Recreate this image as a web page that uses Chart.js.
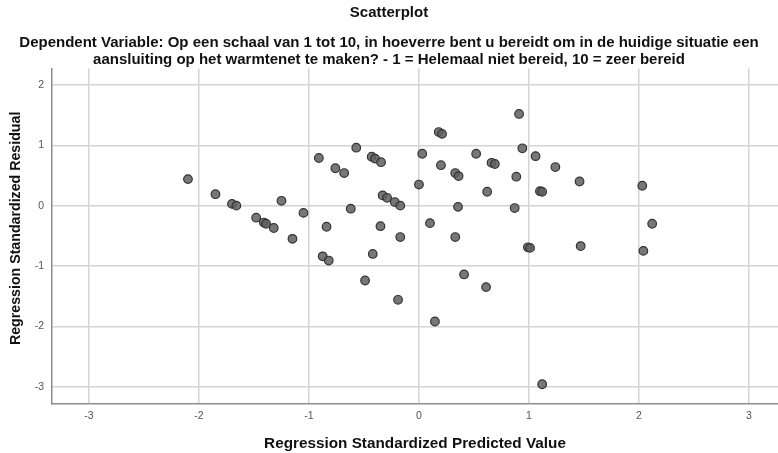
<!DOCTYPE html>
<html>
<head>
<meta charset="utf-8">
<script src="https://cdn.jsdelivr.net/npm/chart.js@4/dist/chart.umd.min.js"></script>
<style>
  html, body { margin: 0; padding: 0; background: #fff; overflow: hidden; }
  canvas { display: block; }
</style>
</head>
<body>
<canvas id="scatter" width="778" height="453"></canvas>
<script>
// predicted value (x) and residual (y)
var predicted = [-2.10, -1.85, -1.70, -1.66, -1.48, -1.41, -1.39, -1.32, -1.25, -1.15,
  -1.05, -0.91, -0.875, -0.82, -0.84, -0.76, -0.68, -0.62, -0.57, -0.49,
  -0.43, -0.40, -0.42, -0.345, -0.35, -0.33, -0.29, -0.22, -0.17, -0.17,
  -0.19, 0.00, 0.03, 0.10, 0.145, 0.18, 0.21, 0.20, 0.33, 0.36,
  0.355, 0.33, 0.41, 0.52, 0.62, 0.61, 0.66, 0.69, 0.87, 0.885,
  0.91, 0.94, 0.99, 1.01, 1.06, 1.10, 1.12, 1.12, 1.24, 1.46,
  1.47, 2.03, 2.04, 2.12];
var residual = [0.44, 0.19, 0.03, 0.00, -0.20, -0.28, -0.30, -0.37, 0.08, -0.55,
  -0.12, 0.79, -0.84, -0.91, -0.35, 0.62, 0.54, -0.05, 0.96, -1.24,
  0.81, 0.78, -0.80, 0.72, -0.34, 0.17, 0.13, 0.06, 0.00, -0.52,
  -1.56, 0.35, 0.86, -0.29, -1.92, 1.22, 1.19, 0.67, 0.54, 0.49,
  -0.02, -0.52, -1.14, 0.86, 0.23, -1.35, 0.71, 0.69, -0.04, 0.48,
  1.52, 0.95, -0.69, -0.70, 0.82, 0.24, 0.23, -2.96, 0.64, 0.40,
  -0.67, 0.33, -0.75, -0.30];
var xTicks = [-3, -2, -1, 0, 1, 2, 3];
var yTicks = [-3, -2, -1, 0, 1, 2];

var points = [];
for (var i = 0; i < predicted.length; i++) {
  points.push({ x: predicted[i], y: residual[i] });
}

var fam = "'Liberation Sans', Arial, sans-serif";
var gridCol = '#d4d4d4';
var axisCol = '#8c8c8c';

var ctx = document.getElementById('scatter');
var chart = new Chart(ctx, {
  type: 'scatter',
  data: {
    datasets: [{
      data: points,
      backgroundColor: 'rgba(95,95,95,0.85)',
      borderColor: '#333',
      borderWidth: 1.2,
      pointRadius: 4.3,
      pointHoverRadius: 4.3
    }]
  },
  options: {
    responsive: false,
    animation: false,
    layout: { padding: 0, autoPadding: false },
    plugins: {
      legend: { display: false },
      tooltip: { enabled: false },
      title: {
        display: true,
        text: 'Scatterplot',
        color: '#111',
        font: { family: fam, size: 15, weight: 'bold', lineHeight: 1.2 },
        padding: { top: 4, bottom: 12.5 }
      },
      subtitle: {
        display: true,
        text: ['Dependent Variable: Op een schaal van 1 tot 10, in hoeverre bent u bereidt om in de huidige situatie een',
               'aansluiting op het warmtenet te maken? - 1 = Helemaal niet bereid, 10 = zeer bereid'],
        color: '#111',
        font: { family: fam, size: 15, weight: 'bold', lineHeight: 1.133 },
        padding: { top: 0, bottom: 0 }
      }
    },
    scales: {
      x: {
        type: 'linear',
        min: -3.336,
        max: 3.264,
        afterFit: function(s) { s.height = 49; s.paddingLeft = 0; s.paddingRight = 0; },
        afterBuildTicks: function(s) { s.ticks = xTicks.map(function(v) { return { value: v }; }); },
        ticks: { color: '#555', font: { family: fam, size: 10.5 }, padding: 6, includeBounds: false },
        grid: { color: gridCol, lineWidth: 1.5, drawTicks: false },
        border: { color: axisCol, width: 1.5 },
        title: {
          display: true,
          text: 'Regression Standardized Predicted Value',
          color: '#111',
          font: { family: fam, size: 15.3, weight: 'bold' },
          padding: { top: 12, bottom: 0 }
        }
      },
      y: {
        type: 'linear',
        min: -3.287,
        max: 2.273,
        afterFit: function(s) { s.width = 52; s.paddingTop = 0; s.paddingBottom = 0; },
        afterBuildTicks: function(s) { s.ticks = yTicks.map(function(v) { return { value: v }; }); },
        ticks: { color: '#555', font: { family: fam, size: 10.5 }, padding: 8, includeBounds: false },
        grid: { color: gridCol, lineWidth: 1.5, drawTicks: false },
        border: { color: axisCol, width: 1.5 },
        title: {
          display: true,
          text: '    Regression Standardized Residual',
          color: '#111',
          font: { family: fam, size: 14.2, weight: 'bold' },
          padding: { top: 8, bottom: 0 }
        }
      }
    }
  }
});
</script>
</body>
</html>
